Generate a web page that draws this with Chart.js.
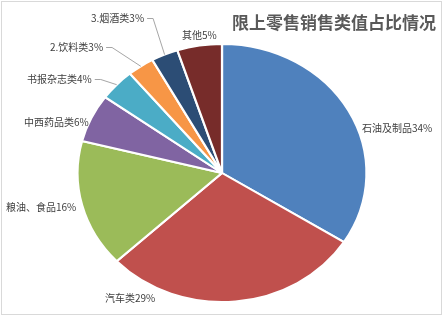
<!DOCTYPE html>
<html>
<head>
<meta charset="utf-8">
<script src="https://cdn.jsdelivr.net/npm/chart.js@4/dist/chart.umd.min.js"></script>
<style>
  html, body { margin: 0; padding: 0; background: #fff; }
  #wrap { width: 443px; height: 317px; }
</style>
</head>
<body>
<div id="wrap"><canvas id="pieChart" width="443" height="317"></canvas></div>
<script>
// data
var categories = ['石油及制品', '汽车类', '粮油、食品', '中西药品类', '书报杂志类', '2.饮料类', '3.烟酒类', '其他'];
var shares = [34, 29, 16, 6, 4, 3, 3, 5];
var sliceColors = ['#4F81BD', '#C0504D', '#9BBB59', '#8064A2', '#4BACC6', '#F79646', '#2C4D75', '#772C2A'];
var chartTitle = '限上零售销售类值占比情况';

// where Excel put each label (left edge x, middle y), and whether it has a leader line
var labelSpots = [
    { x: 362, y: 128, leader: false },
    { x: 105, y: 298, leader: false },
    { x: 6, y: 207, leader: false },
    { x: 24, y: 122, leader: false },
    { x: 27, y: 79, leader: true },
    { x: 50, y: 47, leader: true },
    { x: 91, y: 18, leader: true },
    { x: 182, y: 35, leader: false }
];

var stretchX = 1.12; // the original pie is a bit wider than tall

var labelFont = '10px "Noto Sans CJK SC", "Noto Sans", sans-serif';

// white background, thin frame and title
var framePlugin = {
    id: 'frame',
    beforeDraw: function (chart) {
        var ctx = chart.ctx;
        ctx.save();
        ctx.fillStyle = '#fff';
        ctx.fillRect(0, 0, chart.width, chart.height);
        ctx.strokeStyle = '#d9d9d9';
        ctx.lineWidth = 1;
        ctx.strokeRect(1.5, 1.5, chart.width - 3, chart.height - 4);
        ctx.restore();
    },
    afterDraw: function (chart) {
        var ctx = chart.ctx;
        ctx.save();
        ctx.font = 'bold 17px "Noto Sans CJK SC", sans-serif';
        ctx.fillStyle = '#595959';
        ctx.textAlign = 'center';
        ctx.textBaseline = 'middle';
        ctx.fillText(chartTitle, 334, 23);
        ctx.restore();
    }
};

// stretch the pie horizontally around its centre
var stretchPlugin = {
    id: 'stretch',
    beforeDatasetsDraw: function (chart) {
        var arc = chart.getDatasetMeta(0).data[0];
        var ctx = chart.ctx;
        ctx.save();
        ctx.translate(arc.x, arc.y);
        ctx.scale(stretchX, 1);
        ctx.translate(-arc.x, -arc.y);
    },
    afterDatasetsDraw: function (chart) {
        chart.ctx.restore();
    }
};

// labels "name + percent", with leader lines for the small slices
var labelPlugin = {
    id: 'sliceLabels',
    afterDatasetsDraw: function (chart) {
        var ctx = chart.ctx;
        var arcs = chart.getDatasetMeta(0).data;
        ctx.save();
        ctx.font = labelFont;
        ctx.textBaseline = 'middle';
        ctx.textAlign = 'left';
        arcs.forEach(function (arc, i) {
            var spot = labelSpots[i];
            var text = categories[i] + shares[i] + '%';
            ctx.fillStyle = '#404040';
            ctx.fillText(text, spot.x, spot.y);
            if (spot.leader) {
                var mid = (arc.startAngle + arc.endAngle) / 2;
                var ex = arc.x + Math.cos(mid) * arc.outerRadius * stretchX;
                var ey = arc.y + Math.sin(mid) * arc.outerRadius;
                var sx = spot.x + ctx.measureText(text).width + 3;
                ctx.strokeStyle = '#a6a6a6';
                ctx.lineWidth = 1;
                ctx.beginPath();
                ctx.moveTo(sx, spot.y + 0.5);
                ctx.lineTo(sx + 6, spot.y + 0.5);
                ctx.lineTo(ex, ey);
                ctx.stroke();
            }
        });
        ctx.restore();
    }
};

var ctx = document.getElementById('pieChart').getContext('2d');

new Chart(ctx, {
    type: 'pie',
    data: {
        labels: categories,
        datasets: [{
            data: shares,
            backgroundColor: sliceColors,
            borderColor: '#ffffff',
            borderWidth: 2
        }]
    },
    options: {
        responsive: false,
        animation: false,
        events: [],
        layout: {
            padding: { top: 43, bottom: 14, left: 92, right: 91 }
        },
        plugins: {
            legend: { display: false },
            tooltip: { enabled: false },
            title: { display: false }
        }
    },
    plugins: [framePlugin, stretchPlugin, labelPlugin]
});
</script>
</body>
</html>
